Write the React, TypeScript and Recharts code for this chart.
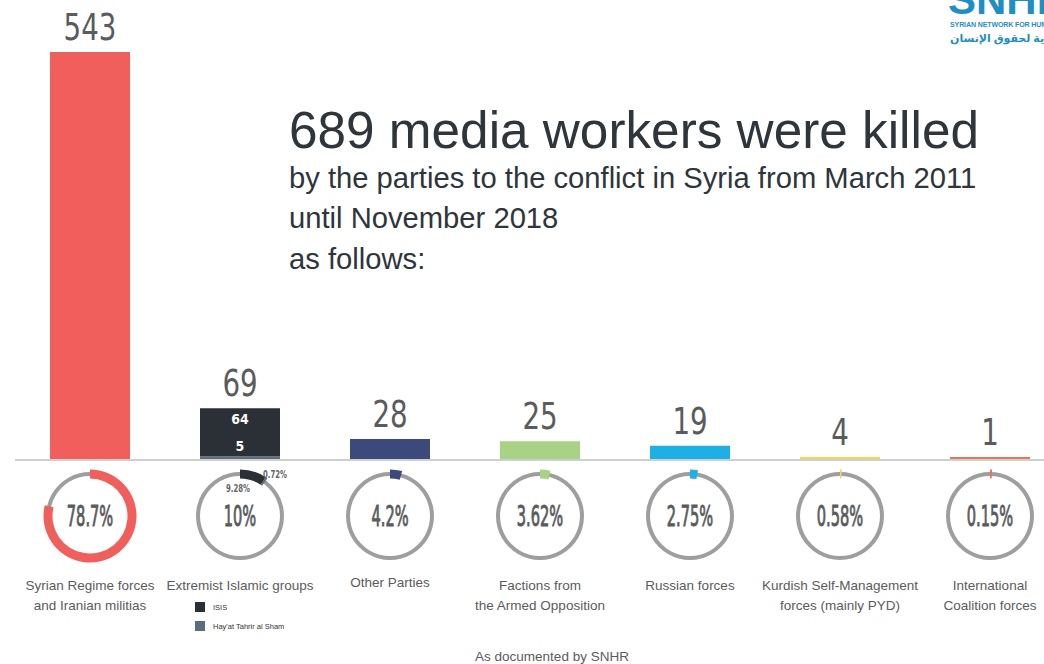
import { Bar, BarChart, Cell, LabelList, Pie, PieChart, XAxis, YAxis } from "recharts";

const categories = [
  ["Syrian Regime forces", "and Iranian militias"],
  ["Extremist Islamic groups"],
  ["Other Parties"],
  ["Factions from", "the Armed Opposition"],
  ["Russian forces"],
  ["Kurdish Self-Management", "forces (mainly PYD)"],
  ["International", "Coalition forces"],
];
const killed = [543, 69, 28, 25, 19, 4, 1];
const htsKilled = [0, 5, 0, 0, 0, 0, 0];
const pctLabels = ["78.7%", "10%", "4.2%", "3.62%", "2.75%", "0.58%", "0.15%"];
const pctValues = [78.7, 10, 4.2, 3.62, 2.75, 0.58, 0.15];
const extremistSplit = [9.28, 0.72];
const extremistSplitLabels = ["9.28%", "0.72%"];
const barColors = ["#f15f5c", "#2b2f36", "#3b4a7a", "#a9d384", "#1eb0e4", "#f3d55b", "#ea7458"];
const htsColor = "#5c6d7b";

const rows = categories.map((lines, i) => ({
  name: lines.join(" "),
  lines,
  hts: htsKilled[i],
  top: killed[i] - htsKilled[i],
  total: killed[i],
}));

const W = 1065;
const LEFT = 15;
const BAND = (W - LEFT) / categories.length;
const RING_Y = 516;
const NARROW = "'Liberation Sans Narrow', 'DejaVu Sans Condensed', 'Liberation Sans', sans-serif";
const SANS = "'Liberation Sans', Arial, sans-serif";
const GREY_TEXT = "#5a5b5d";

function CategoryTick(props: any) {
  const { x, y, payload, index } = props;
  const lines: string[] = rows[index]?.lines ?? [payload.value];
  const first = lines.length === 1 && index === 2 ? 127 : 130;
  return (
    <text x={x} y={y} textAnchor="middle" fill={GREY_TEXT} fontSize={13.5} fontFamily={SANS}>
      {lines.map((l, k) => (
        <tspan key={k} x={x} y={y + first + k * 20}>
          {l}
        </tspan>
      ))}
    </text>
  );
}

function TotalLabel(props: any) {
  const { x, y, width, index } = props;
  return (
    <text
      transform={`translate(${x + width / 2} ${y - 12}) scale(0.81 1)`}
      textAnchor="middle"
      fill={GREY_TEXT}
      fontSize={38}
      fontFamily={NARROW}
    >
      {rows[index].total}
    </text>
  );
}

function InnerLabel(props: any) {
  const { x, y, width, height, index, value } = props;
  if (!htsKilled[index]) return null;
  const cx = x + width / 2;
  return (
    <g fill="#ffffff" fontSize={14} fontFamily={NARROW} fontWeight={700} textAnchor="middle">
      <text x={cx} y={y + 16}>{value}</text>
      <text x={cx} y={y + height - 5}>{htsKilled[index]}</text>
    </g>
  );
}

const centerLabel = (i: number) => (p: any) => (
  <text
    transform={`translate(${p.cx} ${p.cy + 10}) scale(0.58 1)`}
    textAnchor="middle"
    fill={GREY_TEXT}
    stroke={GREY_TEXT}
    strokeWidth={0.9}
    fontSize={28}
    fontFamily={NARROW}
  >
    {pctLabels[i]}
  </text>
);

const splitLabel = (p: any) => {
  const offs = [
    [-2, -24],
    [35, -38],
  ][p.index];
  if (!offs) return null;
  return (
    <text
      transform={`translate(${p.cx + offs[0]} ${p.cy + offs[1]}) scale(0.7 1)`}
      textAnchor="middle"
      fill="#666"
      fontSize={11}
      fontWeight={700}
      fontFamily={NARROW}
    >
      {extremistSplitLabels[p.index]}
    </text>
  );
};

function ringSegments(i: number) {
  if (i === 1) {
    const rest = 100 - extremistSplit[0] - extremistSplit[1];
    return [
      { v: extremistSplit[0], c: barColors[1] },
      { v: extremistSplit[1], c: htsColor },
      { v: rest, c: "none" },
    ];
  }
  return [
    { v: pctValues[i], c: barColors[i] },
    { v: 100 - pctValues[i], c: "none" },
  ];
}

export default function App() {
  return (
    <div
      style={{
        position: "absolute",
        left: 0,
        top: 0,
        width: 1044,
        height: 664,
        overflow: "hidden",
        background: "#ffffff",
      }}
    >
      <svg width={1044} height={664} style={{ position: "absolute", left: 0, top: 0 }}>
        <g fontFamily={SANS} fill="#2e353b">
          <text x={289} y={148} fontSize={51.3}>689 media workers were killed</text>
          <text x={289} y={188} fontSize={29.2}>by the parties to the conflict in Syria from March 2011</text>
          <text x={289} y={228} fontSize={29.2}>until November 2018</text>
          <text x={289} y={269} fontSize={29.2}>as follows:</text>
        </g>
        <text x={552} y={661} textAnchor="middle" fontSize={13.5} fontFamily={SANS} fill={GREY_TEXT}>
          As documented by SNHR
        </text>
        {/* logo, cropped at the page edge */}
        <g fill="#1f8fc2" fontFamily={SANS}>
          <text x={948} y={14} fontSize={42} fontWeight={700}>SNHR</text>
          <text x={950} y={27} fontSize={7} fontWeight={700} letterSpacing={-0.1}>SYRIAN NETWORK FOR HUMAN RIGHTS</text>
          <text
            x={950}
            y={42}
            fontSize={11}
            fontWeight={700}
            direction="rtl"
            textAnchor="end"
            fontFamily="'Noto Sans', 'DejaVu Sans', sans-serif"
          >
            الشبكة السورية لحقوق الإنسان
          </text>
        </g>
        {/* legend for the extremist groups */}
        <rect x={195} y={602} width={10} height={10} fill={barColors[1]} />
        <text x={213} y={610} fontSize={7.5} fontFamily={SANS} fill="#333">ISIS</text>
        <rect x={195} y={621} width={10} height={10} fill={htsColor} />
        <text x={213} y={629} fontSize={7.5} fontFamily={SANS} fill="#333">Hay'at Tahrir al Sham</text>
      </svg>

      <div style={{ position: "absolute", left: 0, top: 0 }}>
        <BarChart width={W} height={650} data={rows} margin={{ top: 52, right: 0, left: LEFT, bottom: 0 }}>
          <XAxis
            dataKey="name"
            axisLine={{ stroke: "#cfcfcf", strokeWidth: 2 }}
            tickLine={false}
            tickSize={0}
            tickMargin={0}
            interval={0}
            height={190}
            tick={<CategoryTick />}
          />
          <YAxis hide domain={[0, 543]} />
          <Bar dataKey="hts" stackId="a" fill={htsColor} barSize={80} isAnimationActive={false} />
          <Bar dataKey="top" stackId="a" barSize={80} minPointSize={3} isAnimationActive={false}>
            {rows.map((_, i) => (
              <Cell key={i} fill={barColors[i]} />
            ))}
            <LabelList dataKey="total" content={<TotalLabel />} />
            <LabelList dataKey="top" content={<InnerLabel />} />
          </Bar>
        </BarChart>
      </div>

      <div style={{ position: "absolute", left: 0, top: 0, pointerEvents: "none" }}>
        <PieChart width={W} height={664} margin={{ top: 0, right: 0, bottom: 0, left: 0 }}>
          {categories.map((_, i) => (
            <Pie
              key={`ring${i}`}
              data={[{ v: 1 }]}
              dataKey="v"
              cx={LEFT + BAND * (i + 0.5)}
              cy={RING_Y}
              innerRadius={40}
              outerRadius={44}
              startAngle={90}
              endAngle={-270}
              fill="#9e9e9e"
              stroke="none"
              label={centerLabel(i)}
              labelLine={false}
              isAnimationActive={false}
            />
          ))}
          {categories.map((_, i) => (
            <Pie
              key={`arc${i}`}
              data={ringSegments(i)}
              dataKey="v"
              cx={LEFT + BAND * (i + 0.5)}
              cy={RING_Y}
              innerRadius={37.5}
              outerRadius={46.5}
              startAngle={90}
              endAngle={-270}
              minAngle={2}
              stroke="none"
              label={i === 1 ? splitLabel : false}
              labelLine={false}
              isAnimationActive={false}
            >
              {ringSegments(i).map((s, k) => (
                <Cell key={k} fill={s.c} />
              ))}
            </Pie>
          ))}
        </PieChart>
      </div>
    </div>
  );
}
